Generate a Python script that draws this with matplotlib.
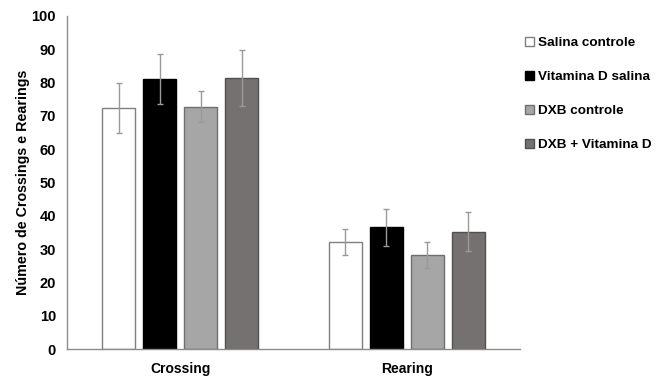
import matplotlib
matplotlib.use("Agg")
import matplotlib.pyplot as plt
import numpy as np

plt.rcParams["font.family"] = ["Liberation Sans", "DejaVu Sans"]
plt.rcParams["font.weight"] = "bold"

categories = ["Crossing", "Rearing"]
groups = ["Salina controle", "Vitamina D salina", "DXB controle", "DXB + Vitamina D"]
means = {
    "Salina controle": [72.3, 32.0],
    "Vitamina D salina": [81.0, 36.5],
    "DXB controle": [72.7, 28.3],
    "DXB + Vitamina D": [81.3, 35.2],
}
errors = {
    "Salina controle": [7.4, 3.9],
    "Vitamina D salina": [7.5, 5.5],
    "DXB controle": [4.6, 3.9],
    "DXB + Vitamina D": [8.4, 5.8],
}
colors = ["#ffffff", "#000000", "#a6a6a6", "#767171"]
edges = ["#7f7f7f", "#000000", "#6f6f6f", "#505050"]

fig = plt.figure(figsize=(6.65, 3.78), dpi=100)
ax = fig.add_axes([0.1008, 0.0767, 0.6812, 0.8815])

x = np.arange(len(categories))
width = 0.146
step = 0.181
handles = []
for i, g in enumerate(groups):
    pos = x + (i - 1.5) * step
    b = ax.bar(pos, means[g], width, color=colors[i], edgecolor=edges[i],
               linewidth=1.0, label=g, zorder=2)
    ax.errorbar(pos, means[g], yerr=errors[g], fmt="none", ecolor="#9a9a9a",
                elinewidth=1.0, capsize=2.5, capthick=1.0, zorder=3)
    handles.append(b)

ax.set_xlim(-0.5, 1.5)
ax.set_ylim(0, 100)
ax.set_yticks(range(0, 101, 10))
ax.set_xticks(x)
ax.set_xticklabels(categories, fontsize=10, fontweight="bold")
ax.tick_params(axis="y", length=0, labelsize=10.5, pad=8)
ax.tick_params(axis="x", length=0, pad=9)
for s in ["top", "right"]:
    ax.spines[s].set_visible(False)
ax.spines["left"].set_color("#8c8c8c")
ax.spines["bottom"].set_color("#8c8c8c")
ax.spines["left"].set_linewidth(1.0)
ax.spines["bottom"].set_linewidth(1.0)
ax.set_ylabel("Número de Crossings e Rearings", fontsize=10.3, fontweight="bold", labelpad=1)

fig.legend(handles=handles, labels=groups, loc="upper left",
           bbox_to_anchor=(0.771, 0.935), frameon=False,
           handlelength=0.7, handleheight=0.7, handletextpad=0.25,
           labelspacing=1.6, prop={"weight": "bold", "size": 9.7})

fig.savefig("out.png", dpi=100)
